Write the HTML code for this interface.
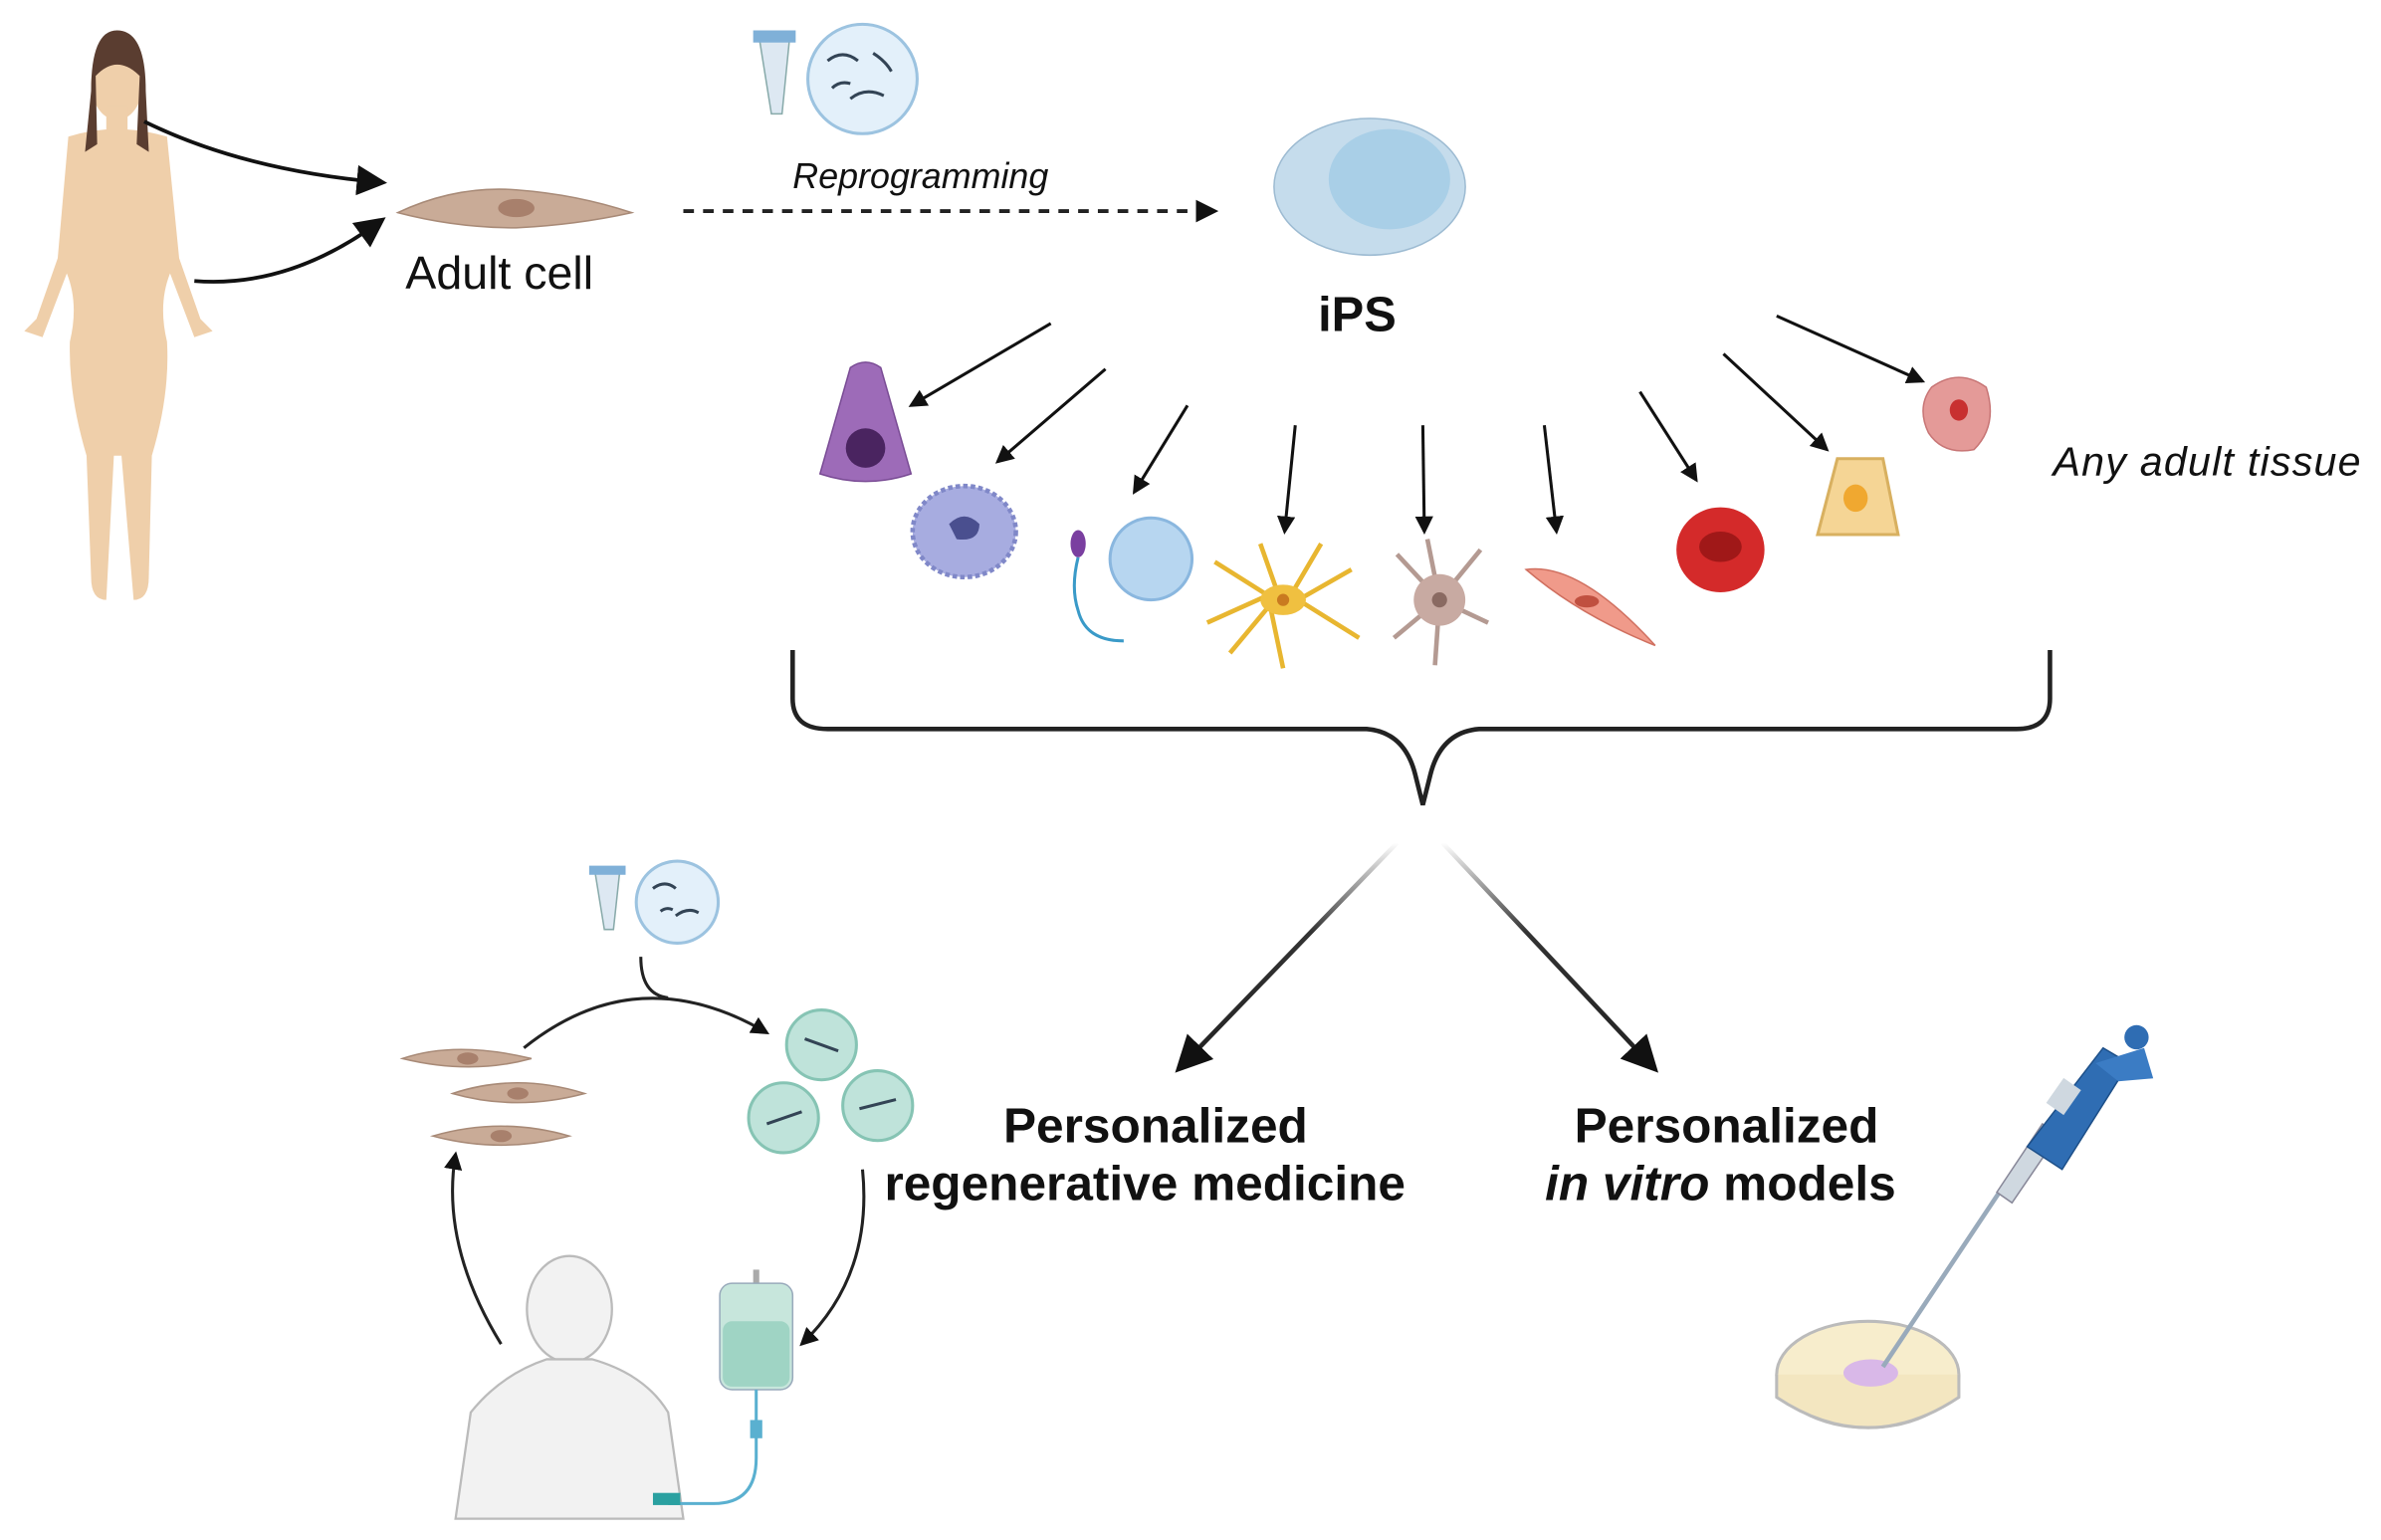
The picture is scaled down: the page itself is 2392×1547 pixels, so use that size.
<!DOCTYPE html>
<html><head><meta charset="utf-8"><style>
html,body{margin:0;padding:0;background:#fff;}
svg{display:block;}
text{font-family:"Liberation Sans",sans-serif;fill:#111;}
</style></head><body>
<svg width="2392" height="1547" viewBox="0 0 1568 1014" preserveAspectRatio="none" xmlns="http://www.w3.org/2000/svg">
<defs>
<marker id="ah" markerWidth="8" markerHeight="8" refX="6" refY="4" orient="auto" markerUnits="strokeWidth"><path d="M0,0 L8,4 L0,8 z" fill="#111"/></marker>
<marker id="ah2" markerWidth="6" markerHeight="6" refX="5" refY="3" orient="auto" markerUnits="strokeWidth"><path d="M0,0 L6,3 L0,6 z" fill="#111"/></marker>
<linearGradient id="g1" x1="0" y1="0" x2="0" y2="1"><stop offset="0" stop-color="#fff"/><stop offset="0.4" stop-color="#333"/><stop offset="1" stop-color="#222"/></linearGradient>
</defs>
<rect width="1568" height="1014" fill="#fff"/>

<!-- woman -->
<g fill="#efcfaa">
<ellipse cx="77" cy="55" rx="17" ry="24"/>
<rect x="70" y="70" width="14" height="18"/>
<path d="M45,90 Q77,80 110,90 L118,170 L132,210 L140,218 L128,222 L112,180 Q104,200 110,225 Q112,260 100,300 L98,380 Q98,395 88,395 L80,300 L75,300 L70,395 Q60,395 60,380 L57,300 Q45,260 46,225 Q52,200 44,180 L28,222 L16,218 L24,210 L38,170 Z"/>
</g>
<path d="M60,60 Q60,20 77,20 Q96,20 96,60 L98,100 L90,95 L92,50 Q77,35 63,50 L64,95 L56,100 Z" fill="#5a3d30"/>

<path d="M95,80 Q160,112 250,120" fill="none" stroke="#111" stroke-width="2.5" marker-end="url(#ah)"/>
<path d="M128,185 Q190,190 250,146" fill="none" stroke="#111" stroke-width="2.5" marker-end="url(#ah)"/>

<!-- adult cell -->
<path d="M262,140 Q300,122 340,125 Q380,128 416,140 Q380,148 340,150 Q300,150 262,140 Z" fill="#c9ab97" stroke="#a88a77"/>
<ellipse cx="340" cy="137" rx="12" ry="6" fill="#a8806c"/>
<text x="267" y="190" font-size="30.5">Adult cell</text>

<!-- reprogramming icon -->
<g>
<path d="M500,25 L520,25 L515,75 L508,75 Z" fill="#dde8f2" stroke="#8aa"/>
<rect x="496" y="20" width="28" height="8" fill="#7fb0d8"/>
<circle cx="568" cy="52" r="36" fill="#e3f0fa" stroke="#9cc3e0" stroke-width="2"/>
<path d="M545,40 q10,-8 20,0 M560,65 q10,-8 22,-2 M575,35 q8,5 12,12 M548,58 q5,-5 12,-3" stroke="#345" stroke-width="2" fill="none"/>
</g>
<text x="522" y="124" font-size="23.5" font-style="italic">Reprogramming</text>
<line x1="450" y1="139" x2="800" y2="139" stroke="#222" stroke-width="2.5" stroke-dasharray="7,6" marker-end="url(#ah2)"/>

<!-- iPS -->
<ellipse cx="902" cy="123" rx="63" ry="45" fill="#c5dcec" stroke="#9dbbd2"/>
<ellipse cx="915" cy="118" rx="40" ry="33" fill="#a9cfe7"/>
<text x="868" y="218" font-size="32" font-weight="bold">iPS</text>

<!-- fan arrows -->
<g stroke="#111" stroke-width="2" marker-end="url(#ah2)">
<line x1="692" y1="213" x2="600" y2="267"/>
<line x1="728" y1="243" x2="657" y2="304"/>
<line x1="782" y1="267" x2="747" y2="324"/>
<line x1="853" y1="280" x2="846" y2="350"/>
<line x1="937" y1="280" x2="938" y2="350"/>
<line x1="1017" y1="280" x2="1025" y2="350"/>
<line x1="1080" y1="258" x2="1117" y2="316"/>
<line x1="1135" y1="233" x2="1203" y2="296"/>
<line x1="1170" y1="208" x2="1266" y2="251"/>
</g>

<!-- cells -->
<path d="M560,242 Q570,235 580,242 L600,312 Q570,322 540,312 Z" fill="#9d6bb8" stroke="#7a4c95"/>
<circle cx="570" cy="295" r="13" fill="#4a2460"/>
<ellipse cx="635" cy="350" rx="34" ry="30" fill="#a7ace0" stroke="#8088c8" stroke-width="3" stroke-dasharray="3,2"/>
<path d="M625,345 q10,-10 20,0 q0,12 -15,10 z" fill="#4a4f8f"/>
<ellipse cx="710" cy="358" rx="5" ry="9" fill="#7a3fa0"/>
<path d="M710,367 q-5,20 0,35 q5,20 30,20" stroke="#3a9ac8" stroke-width="2" fill="none"/>
<circle cx="758" cy="368" r="27" fill="#b7d6f0" stroke="#8ab7df" stroke-width="2"/>
<g stroke="#e8b630" stroke-width="3" fill="none">
<path d="M800,370 L835,392 L795,410 M835,392 L845,440 M855,395 L890,375 M855,395 L895,420 M842,392 L830,358 M850,392 L870,358 M835,400 L810,430"/>
</g>
<ellipse cx="845" cy="395" rx="15" ry="10" fill="#f0c040"/><circle cx="845" cy="395" r="4" fill="#c97a20"/>
<g stroke="#b49a92" stroke-width="3"><path d="M948,395 L920,365 M948,395 L975,362 M948,395 L980,410 M948,395 L918,420 M948,395 L945,438 M948,395 L940,355"/></g>
<circle cx="948" cy="395" r="17" fill="#c8aaa2"/><circle cx="948" cy="395" r="5" fill="#8a6a62"/>
<path d="M1005,375 Q1040,370 1090,425 Q1040,405 1005,375 Z" fill="#f09a8a" stroke="#d07060"/>
<ellipse cx="1045" cy="396" rx="8" ry="4" fill="#c05040"/>
<ellipse cx="1133" cy="362" rx="29" ry="28" fill="#d42a2a"/><ellipse cx="1133" cy="360" rx="14" ry="10" fill="#a01818"/>
<path d="M1210,302 L1240,302 L1250,352 L1197,352 Z" fill="#f5d595" stroke="#d8b060" stroke-width="2"/>
<ellipse cx="1222" cy="328" rx="8" ry="9" fill="#f0a830"/>
<path d="M1272,255 Q1290,242 1308,255 Q1316,280 1300,296 Q1280,300 1270,285 Q1262,268 1272,255 Z" fill="#e49a98" stroke="#c87676"/>
<ellipse cx="1290" cy="270" rx="6" ry="7" fill="#c83030"/>
<text x="1352" y="313" font-size="27" font-style="italic" letter-spacing="0.8">Any adult tissue</text>

<!-- brace -->
<path d="M522,428 L522,460 Q522,480 545,480 L900,480 Q925,482 932,510 L937,530 L942,510 Q949,482 974,480 L1328,480 Q1350,480 1350,460 L1350,428" fill="none" stroke="#222" stroke-width="3"/>

<!-- outputs -->
<path d="M920,555 L778,702" stroke="url(#g1)" stroke-width="3" fill="none" marker-end="url(#ah)"/>
<path d="M950,555 L1088,702" stroke="url(#g1)" stroke-width="3" fill="none" marker-end="url(#ah)"/>
<g font-size="32.5" font-weight="bold" text-anchor="middle">
<text x="761" y="752">Personalized</text>
<text x="754" y="790">regenerative medicine</text>
<text x="1137" y="752">Personalized</text>
<text x="1133" y="790"><tspan font-style="italic">in vitro</tspan> models</text>
</g>

<!-- bottom-left cycle -->
<g fill="#c9ab97" stroke="#a88a77">
<path d="M265,697 Q300,685 350,697 Q310,708 265,697Z"/>
<path d="M298,720 Q340,706 385,720 Q340,732 298,720Z"/>
<path d="M285,748 Q330,735 375,748 Q330,760 285,748Z"/>
</g>
<g fill="#a8806c"><ellipse cx="308" cy="697" rx="7" ry="4"/><ellipse cx="341" cy="720" rx="7" ry="4"/><ellipse cx="330" cy="748" rx="7" ry="4"/></g>
<path d="M345,690 Q420,630 505,680" fill="none" stroke="#222" stroke-width="2" marker-end="url(#ah2)"/>
<path d="M422,630 Q422,655 440,657" fill="none" stroke="#222" stroke-width="2"/>
<g>
<path d="M392,575 L408,575 L404,612 L398,612 Z" fill="#dde8f2" stroke="#8aa"/>
<rect x="388" y="570" width="24" height="6" fill="#7fb0d8"/>
<circle cx="446" cy="594" r="27" fill="#e3f0fa" stroke="#9cc3e0" stroke-width="2"/>
<path d="M430,585 q8,-6 15,0 M445,603 q8,-6 15,-2 M435,600 q4,-3 8,-1" stroke="#345" stroke-width="2" fill="none"/>
</g>
<g fill="#bfe3da" stroke="#86c4b4" stroke-width="2">
<circle cx="541" cy="688" r="23"/><circle cx="578" cy="728" r="23"/><circle cx="516" cy="736" r="23"/>
</g>
<g stroke="#345" stroke-width="2"><line x1="530" y1="684" x2="552" y2="692"/><line x1="566" y1="730" x2="590" y2="724"/><line x1="505" y1="740" x2="528" y2="732"/></g>
<path d="M568,770 Q575,840 528,885" fill="none" stroke="#222" stroke-width="2" marker-end="url(#ah2)"/>
<path d="M330,885 Q290,820 300,760" fill="none" stroke="#222" stroke-width="2" marker-end="url(#ah2)"/>
<!-- person -->
<g fill="#f2f2f2" stroke="#bbb" stroke-width="1.5">
<ellipse cx="375" cy="862" rx="28" ry="35"/>
<path d="M300,1000 L310,930 Q330,905 360,895 L390,895 Q425,905 440,930 L450,1000 Z"/>
</g>
<!-- IV bag -->
<rect x="496" y="836" width="4" height="12" fill="#aaa"/>
<rect x="474" y="845" width="48" height="70" rx="8" fill="#c7e6dc" stroke="#9ab"/>
<rect x="476" y="870" width="44" height="43" rx="6" fill="#9fd4c4"/>
<path d="M498,915 L498,960 Q498,990 470,990 L440,990" fill="none" stroke="#5ab0d0" stroke-width="2"/>
<rect x="494" y="935" width="8" height="12" fill="#5ab0d0"/>
<rect x="430" y="983" width="18" height="8" fill="#2aa0a0"/>

<!-- pipette & dish -->
<ellipse cx="1230" cy="905" rx="60" ry="35" fill="#f7edcc" stroke="#bbb" stroke-width="2"/>
<path d="M1170,905 L1170,920 Q1230,960 1290,920 L1290,905" fill="#f3e6c0" stroke="#bbb" stroke-width="2"/>
<ellipse cx="1232" cy="904" rx="18" ry="9" fill="#d9b8e8"/>
<line x1="1240" y1="900" x2="1320" y2="780" stroke="#9ab" stroke-width="3"/>
<path d="M1315,785 L1345,740 L1355,748 L1325,792 Z" fill="#cfd8e0" stroke="#889"/>
<path d="M1335,755 L1385,690 L1402,700 L1358,770 Z" fill="#2f6db3" stroke="#1d4f88"/>
<path d="M1380,700 L1412,690 L1418,710 L1395,712 Z" fill="#3b7cc4"/>
<circle cx="1407" cy="683" r="8" fill="#2f6db3"/>
<rect x="1352" y="712" width="14" height="20" fill="#cfd8e0" transform="rotate(35 1359 722)"/>
</svg>
</body></html>
